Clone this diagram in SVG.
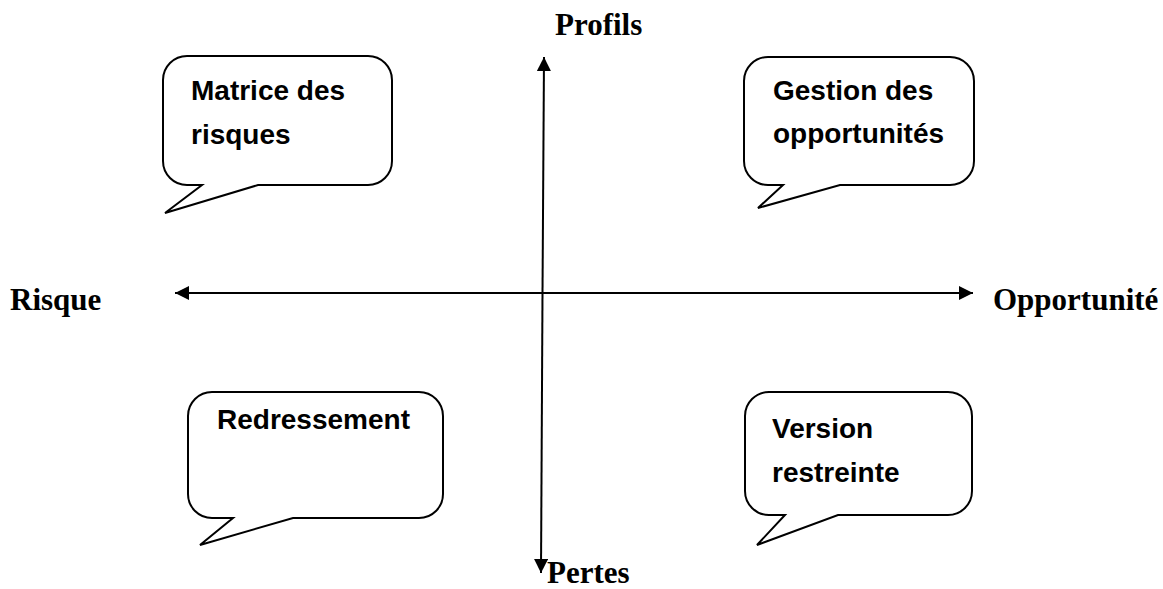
<svg xmlns="http://www.w3.org/2000/svg" width="1163" height="589" viewBox="0 0 1163 589">
  <style>
    .bubble { fill: #ffffff; stroke: #000000; stroke-width: 2; stroke-linejoin: miter; }
    .btext { font-family: "Liberation Sans", Arial, sans-serif; font-weight: bold; font-size: 28px; fill: #000000; }
    .axis { stroke: #000000; stroke-width: 2; fill: none; }
    .alabel { font-family: "Liberation Serif", "Times New Roman", serif; font-weight: bold; font-size: 31px; fill: #000000; }
  </style>
  <defs>
    <marker id="arrow" viewBox="0 0 10 10" refX="10" refY="5" markerWidth="8" markerHeight="7" markerUnits="strokeWidth" orient="auto">
      <path d="M0,0 L10,5 L0,10 Z" fill="#000000"/>
    </marker>
  </defs>
  <rect width="1163" height="589" fill="#ffffff"/>

  <!-- axes -->
  <g id="connectors">
    <line class="axis" x1="542.5" y1="293" x2="544" y2="57" marker-end="url(#arrow)"/>
    <line class="axis" x1="542.5" y1="293" x2="541" y2="573" marker-end="url(#arrow)"/>
    <line class="axis" x1="542.5" y1="293" x2="175" y2="293" marker-end="url(#arrow)"/>
    <line class="axis" x1="542.5" y1="293" x2="973" y2="293" marker-end="url(#arrow)"/>
  </g>

  <!-- axis labels -->
  <g id="label-profils"><text class="alabel" x="555" y="35">Profils</text></g>
  <g id="label-pertes"><text class="alabel" x="547" y="583">Pertes</text></g>
  <g id="label-risque"><text class="alabel" x="10" y="310">Risque</text></g>
  <g id="label-opportunite"><text class="alabel" x="993" y="310">Opportunité</text></g>

  <!-- top-left bubble -->
  <g id="matrice">
    <path class="bubble" d="M187 56 H368 A24 24 0 0 1 392 80 V161 A24 24 0 0 1 368 185 H258 L165 213 L202 185 H187 A24 24 0 0 1 163 161 V80 A24 24 0 0 1 187 56 Z"/>
    <text class="btext" x="191" y="100">Matrice des</text>
    <text class="btext" x="191" y="144">risques</text>
  </g>

  <!-- top-right bubble -->
  <g id="gestion">
    <path class="bubble" d="M768 57 H950 A24 24 0 0 1 974 81 V161 A24 24 0 0 1 950 185 H840 L758 208 L783 185 H768 A24 24 0 0 1 744 161 V81 A24 24 0 0 1 768 57 Z"/>
    <text class="btext" x="773" y="100">Gestion des</text>
    <text class="btext" x="773" y="143">opportunités</text>
  </g>

  <!-- bottom-left bubble -->
  <g id="redressement">
    <path class="bubble" d="M212 392 H419 A24 24 0 0 1 443 416 V494 A24 24 0 0 1 419 518 H293 L200 545 L233 518 H212 A24 24 0 0 1 188 494 V416 A24 24 0 0 1 212 392 Z"/>
    <text class="btext" x="217" y="429">Redressement</text>
  </g>

  <!-- bottom-right bubble -->
  <g id="version">
    <path class="bubble" d="M769 392 H948 A24 24 0 0 1 972 416 V491 A24 24 0 0 1 948 515 H838 L757 545 L785 515 H769 A24 24 0 0 1 745 491 V416 A24 24 0 0 1 769 392 Z"/>
    <text class="btext" x="772" y="438">Version</text>
    <text class="btext" x="772" y="482">restreinte</text>
  </g>
</svg>
